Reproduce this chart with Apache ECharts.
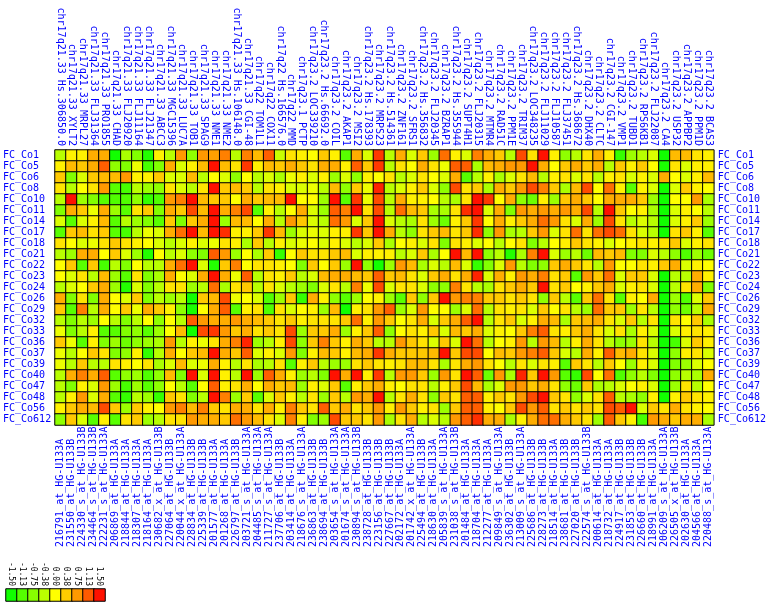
<!DOCTYPE html>
<html>
<head>
<meta charset="utf-8">
<script src="https://cdn.jsdelivr.net/npm/echarts@6/dist/echarts.min.js"></script>
<style>html,body{margin:0;padding:0;background:#fff;}#c{width:769px;height:604px;}</style>
</head>
<body>
<div id="c"></div>
<script>
const chromBands = ['chr17q21.33','chr17q21.33','chr17q21.33','chr17q21.33','chr17q21.33','chr17q21.33','chr17q21.33','chr17q21.33','chr17q21.33','chr17q21.33','chr17q21.33','chr17q21.33','chr17q21.33','chr17q21.33','chr17q21.33','chr17q21.33','chr17q21.33','chr17q21.33','chr17q22','chr17q22','chr17q22','chr17q22','chr17q23.1','chr17q23.2','chr17q23.2','chr17q23.2','chr17q23.2','chr17q23.2','chr17q23.2','chr17q23.2','chr17q23.2','chr17q23.2','chr17q23.2','chr17q23.2','chr17q23.2','chr17q23.2','chr17q23.2','chr17q23.2','chr17q23.2','chr17q23.2','chr17q23.2','chr17q23.2','chr17q23.2','chr17q23.2','chr17q23.2','chr17q23.2','chr17q23.2','chr17q23.2','chr17q23.2','chr17q23.2','chr17q23.2','chr17q23.2','chr17q23.2','chr17q23.2','chr17q23.2','chr17q23.2','chr17q23.2','chr17q23.2','chr17q23.2','chr17q23.2'];
const geneNames = ['Hs.306850.0','XYLT2','MRPL27','FLJ31364','PRO1855','CHAD','FLJ20920','FLJ11164','FLJ21347','ABCC3','MGC15396','LUC7A','TOB1','SPAG9','NME1','NME2','Hs.106148.0','CGI-48','TOM1L1','COX11','Hs.166576.0','MMD','PCTP','LOC339210','Hs.66692.0','COIL','AKAP1','MSI2','Hs.178393','MRPS23','Hs.514361','ZNF161','SFRS1','Hs.356832','FLJ20345','BZRAP1','Hs.355944','SUPT4H1','FLJ20315','MTMR4','RAD51C','PPM1E','TRIM37','LOC348235','FLJ11029','FLJ10587','FLJ37451','Hs.368672','DHX40','CLTC','CGI-147','VMP1','TUBD1','RPS6KB1','FLJ22087','CA4','USP32','APPBP2','PPM1D','BCAS3'];
const probeIds = ['216791_at_HG-U133A','231550_at_HG-U133B','224330_s_at_HG-U133B','234464_s_at_HG-U133B','222231_s_at_HG-U133A','206869_at_HG-U133A','218844_at_HG-U133A','218307_at_HG-U133A','218164_at_HG-U133A','230682_x_at_HG-U133B','227064_at_HG-U133B','220044_x_at_HG-U133A','228834_at_HG-U133B','225339_at_HG-U133B','201577_at_HG-U133A','201268_at_HG-U133A','226797_at_HG-U133B','203721_s_at_HG-U133A','204485_s_at_HG-U133A','211727_s_at_HG-U133A','237706_at_HG-U133B','203414_at_HG-U133A','218676_s_at_HG-U133A','236863_at_HG-U133B','238694_at_HG-U133B','203654_s_at_HG-U133A','201674_s_at_HG-U133A','230894_s_at_HG-U133B','238728_at_HG-U133B','223156_at_HG-U133B','227667_at_HG-U133B','202172_at_HG-U133A','201742_x_at_HG-U133A','225494_at_HG-U133B','218630_at_HG-U133A','205839_s_at_HG-U133A','231038_s_at_HG-U133B','201484_at_HG-U133A','218704_at_HG-U133A','212277_at_HG-U133A','209849_s_at_HG-U133A','236302_at_HG-U133B','213009_s_at_HG-U133A','225686_at_HG-U133B','228273_at_HG-U133B','218514_at_HG-U133A','238681_at_HG-U133B','227020_at_HG-U133B','222574_s_at_HG-U133B','200614_at_HG-U133A','218732_at_HG-U133A','224917_at_HG-U133B','231853_at_HG-U133B','226660_at_HG-U133B','218991_at_HG-U133A','206209_s_at_HG-U133A','226505_x_at_HG-U133B','202630_at_HG-U133A','204566_at_HG-U133A','220488_s_at_HG-U133A'];
const samples = ['FC_Co1','FC_Co5','FC_Co6','FC_Co8','FC_Co10','FC_Co11','FC_Co14','FC_Co17','FC_Co18','FC_Co21','FC_Co22','FC_Co23','FC_Co24','FC_Co26','FC_Co29','FC_Co32','FC_Co33','FC_Co36','FC_Co37','FC_Co39','FC_Co40','FC_Co47','FC_Co48','FC_Co56','FC_Co612'];
const legendTicks = ['-1.50','-1.13','-0.75','-0.38','0.00','0.38','0.75','1.13','1.50'];
const legendValues = [-1.5,-1.125,-0.75,-0.375,0,0.375,0.75,1.125,1.5];

const rowCo1 = [-0.4,0.1,0.1,0.6,0.6,-1.5,-0.5,-0.8,-1.4,0.1,-0.4,0.75,-0.7,0.75,0.7,0.9,-0.4,0.9,0.5,1.1,-0.3,0.2,0.1,0,0.4,0.1,-1.1,0.6,-0.2,1.3,-0.4,0.6,-0.2,0.4,-0.6,1.0,0.1,-0.2,0.9,0.6,0.4,-0.4,1.2,0.2,1.5,0.1,-0.7,-0.4,0.2,0.6,0.1,-1.3,-0.6,-0.4,-0.2,-1.5,0.5,0.5,0.2,0.1];
const rowCo5 = [0.1,0.5,0.4,0.6,1.1,-0.7,-0.8,-0.1,-1.2,-0.8,0.6,-0.2,0.1,0.5,1.5,0.5,0.2,1.3,0.1,0.5,0.4,0.6,0.4,0.2,0.6,0.6,0.1,1.1,0.4,1.3,-0.4,0.2,0,0.6,0.2,-0.1,1.1,1.1,-0.5,0.5,0.6,0.75,0.75,1.5,0.6,0,0.4,0.6,0.4,0.6,-0.4,0.4,0.1,0.4,0,-1.45,0.2,-0.2,0.1,0.1];
const rowCo6 = [0.4,-0.8,-0.2,0.4,0.5,0.5,0.75,0.1,0.1,0.4,-0.2,-0.2,0.5,-0.4,0,-0.2,-0.7,0,-0.4,-0.2,-0.5,-0.1,0.1,-0.2,0.1,-0.6,-0.2,-0.7,0.1,0,0.2,-0.4,-0.2,0.2,0,-0.2,0.6,-1.1,-0.4,0.1,-0.5,-0.2,0.2,0.5,-0.4,0.1,0.2,-0.2,0.2,-0.4,0.1,0.2,-0.2,0.1,-0.2,0.6,0,-0.2,0.1,0.5];
const rowCo8 = [0.2,-0.4,0,0.2,0.75,-1.1,-1.2,-0.4,-0.6,-0.7,0.2,-0.2,-0.4,0.2,1.5,0.4,0.5,0.4,-0.4,0.2,0.1,-0.2,-0.2,-0.1,-0.4,0.5,-0.7,0.4,-0.1,1.4,-0.4,-0.2,0.1,0.4,-0.2,-0.7,1.2,0.2,0.4,-0.5,0.6,0.4,0.75,1.2,0.9,0.4,-0.5,0.5,1.2,0,1.0,0.1,-1.1,0.1,-0.2,-1.5,-0.2,0.4,0.1,0];
const rowCo10 = [-0.4,1.5,-0.6,-0.8,-1.1,-1.15,-1.15,-0.7,-1.3,-1.15,0.75,0.9,1.5,0.5,0.4,0.4,0,0.6,0.4,0.5,0.5,1.5,0,0,-0.6,1.5,-1.1,1.3,-0.1,1.2,-0.4,0.6,0.1,0.1,0,-0.4,-0.5,0.2,1.5,1.3,0,0.6,-0.7,-0.95,0.1,-0.6,0.4,0.6,0.4,0,0.6,0.6,0.6,0.4,-0.6,-1.5,0,0,0.75,-0.5];
const rowCo11 = [-0.8,0.6,0.4,-0.1,0.6,-0.6,-1.1,0.2,0.4,-0.8,0.6,0.4,1.2,0.5,1.5,0.6,0.9,1.2,-1.1,0.1,-0.4,0,0.6,-0.2,-0.6,1.1,0.9,1.5,0.2,1.2,-0.4,1.0,0.5,0.4,-0.5,-0.5,0.2,1.35,1.5,-0.2,0.6,-0.8,0.75,0.6,0.75,0.6,0.75,0.6,1.2,-0.4,1.5,0.4,0,0.1,-0.5,-1.5,-0.2,0.1,0,-0.4];
const rowCo14 = [-0.2,-1.1,-0.2,0.1,0.5,-1.1,-0.4,-0.6,-0.8,-1.1,0.4,-0.8,0.4,0.6,1.5,-0.6,0.5,0.5,0,0.6,-0.4,0.75,0.4,-0.2,-0.4,1.0,0.75,-0.2,0.4,1.5,-0.2,-0.4,-0.5,0.2,-0.6,-0.95,0.1,0.4,1.3,0,0.6,0.1,0.4,0.6,1.0,0.75,0.2,-0.2,0.6,-0.6,1.2,0.2,-0.4,-0.2,-0.4,-1.5,-0.2,0.1,0.4,-0.6];
const rowCo17 = [-1.1,0.4,0.5,0.2,0.4,-1.1,-1.2,-0.4,-0.1,-0.2,0.6,1.0,1.5,0.5,1.5,1.35,0.1,0.1,0.4,1.3,0.5,-0.6,-0.2,-0.1,-0.2,0.1,0.1,1.3,0.4,1.5,0.6,-0.4,-0.7,0.2,0.4,0.5,0.2,0.4,1.35,-0.7,0.75,-0.5,-0.4,0.4,0.75,-0.2,0.2,1.0,0.2,1.0,1.2,1.0,0.2,-0.2,-0.4,-1.5,0.2,0.4,0.1,-1.1];
const rowCo18 = [0.2,0,-0.2,-0.1,0.2,0.4,0.2,0.1,0,-0.2,-0.4,-0.2,0.1,-0.2,-0.1,0.2,0.1,-0.5,0.4,-0.4,0.1,-0.2,-0.1,0,-0.2,0.1,-0.2,-0.4,-0.2,0.4,-0.5,0,0.1,-0.2,0.2,-0.8,0.2,0.1,-0.2,0,-0.4,0,0.2,-0.8,-0.4,0,0.1,0.4,0.2,0.1,-0.2,0,0.1,0.2,0.1,0.2,0.4,-0.2,0.1,0.2];
const rowCo21 = [-0.4,-0.6,0.6,0.6,0,0.4,-0.2,-0.6,-1.4,0,-0.4,-0.2,-0.7,-0.8,1.1,0.75,-0.6,0,-0.5,0.4,-1.3,0,0.4,0.2,0.2,0.4,0.5,-0.2,0.1,0.1,0.1,-0.4,-0.2,0.4,-0.5,0,1.5,0.5,1.5,-0.7,-0.4,-1.4,-0.5,0.9,1.5,-0.2,-0.6,-0.4,-0.95,0.5,0.4,0.5,-0.8,-0.8,-0.2,-0.4,-0.7,-1.15,-0.6,-0.95];
const rowCo22 = [0,0.4,-1.1,0.4,-1.2,-0.4,-0.8,0,-0.4,-0.4,0.6,1.0,1.5,-0.2,-1.4,0.4,0.9,0,0.2,0.2,0.1,0,-0.8,0.4,0,0.4,-0.6,1.5,-0.7,-1.5,-0.6,0.75,0.5,-0.5,-0.2,-0.4,0.5,-0.2,-1.3,-0.8,-0.2,0.75,-0.4,-0.8,-0.7,0.4,0.6,0.4,0.2,-0.4,0.75,0,0,0.2,0.1,0.4,0.6,-0.2,0.1,0];
const rowCo23 = [0,-0.2,0.2,-0.4,0.5,-0.6,-1.1,0.2,-0.8,-0.5,0.6,0,-0.2,0.6,1.5,0.6,-0.1,1.1,-0.4,0.2,0.1,0.4,-0.4,-0.2,0.5,0.6,0.6,0.5,0.4,1.1,0.4,0.5,0.2,-0.2,0.4,0.6,0.2,0.6,1.4,-0.2,0.6,0.1,0.75,0.6,0.9,0.2,0.4,-1.1,0.75,0.4,1.0,-0.2,0.4,0.4,-0.2,-1.5,-0.4,-0.4,0.6,0.1];
const rowCo24 = [-0.4,-0.2,0,0.4,0.6,-0.6,-1.4,-0.2,-0.8,-0.4,0.2,0.2,-0.6,-0.4,1.0,-0.5,0.2,0.4,-0.4,0.2,-0.2,-0.4,-0.6,-0.8,-0.2,0.2,-0.4,0.9,-0.1,1.2,-0.2,0.2,0.2,-0.2,-0.7,-0.7,0.9,0.2,-0.4,-0.5,0.2,0.4,0.6,0.4,1.5,0.2,0.4,0,0.1,0.4,0.6,-0.2,0.1,0.2,-0.2,-1.5,-0.4,0.2,0.6,-0.8];
const rowCo26 = [0.6,-0.8,0.2,-0.8,0.6,0,-0.2,0.4,-0.8,-0.4,-0.6,-0.4,-1.5,0.4,0.5,1.2,-0.1,0,-0.2,-1.15,-0.6,0.4,-1.3,0.6,0.1,-0.7,-1.1,-0.6,0,0.1,-0.6,-1.1,0.4,-0.7,0.4,1.5,0.75,0.9,0.9,0.4,0.4,0.2,0.4,0.2,-0.7,0.4,-0.4,-1.1,0.4,1.0,0.2,-1.1,0.1,0,0.6,-1.5,-0.6,-1.15,-0.2,0.4];
const rowCo29 = [0.4,-1.1,0.9,-0.4,0.6,0,0.4,-0.1,0.6,0.4,0.1,-0.7,-1.45,0,0.6,1.1,-1.1,0.1,0.2,-1.15,0.2,-0.2,0,0.1,-0.6,0.5,-1.5,0.1,0.2,0.75,1.1,-0.6,-0.2,0.75,0,0,-0.6,-0.2,1.0,-0.4,0.2,0.1,0.2,-0.2,0.4,0,0.2,-0.4,-0.6,1.0,0.4,0.4,-0.6,0.2,-0.4,-1.5,-0.7,-0.95,-0.4,0.6];
const rowCo32 = [-0.4,-0.8,-0.4,-0.6,0,-0.4,-0.8,-0.4,0,-0.7,0,-0.4,1.1,0.75,0.6,0.6,0.75,0.6,0.5,0.4,0.2,0.4,0.1,0.2,0.2,0.2,0.4,1.0,0.1,0.75,0.4,0,0.2,0.6,-0.2,0.4,0.6,1.1,1.5,-0.4,0.2,0.4,-0.2,0.1,0.6,0.5,-0.5,0.4,0.5,0.6,0.2,-0.2,0.4,-0.4,0.2,-1.5,0.2,0,0.4,-0.5];
const rowCo33 = [-0.1,-0.8,-0.4,0.1,-1.1,-1.1,-0.8,-0.7,-1.1,-0.6,0,0.5,-1.5,1.2,1.3,0.75,0.4,0.6,0.2,0.4,0.2,1.2,-0.6,0.4,0.4,0.6,-0.6,0.1,0.4,1.1,-0.7,0,0.2,0.1,0.4,-0.2,0.5,0.4,0.6,-0.2,0.1,0,0.4,0.9,1.1,0.2,0.1,0.4,0.6,0.2,-0.2,0.2,-0.5,0.1,-0.2,-1.5,-0.2,0.1,0.2,0.1];
const rowCo36 = [0.4,-0.1,-1.1,0.1,-0.8,-0.6,-0.95,-0.7,-0.6,-0.5,0.75,-0.4,0.1,-0.1,0.2,0.6,0.9,1.4,-0.6,-0.4,0.1,1.2,-0.7,0.4,0.9,0.4,0.1,0.6,0.4,-0.4,-0.4,0.75,0.4,0.2,-0.2,0.4,-0.2,1.5,1.0,-0.4,0,0.1,0.75,-0.4,0.75,0.5,-0.4,0.1,0.6,0.2,-0.4,-0.7,-0.6,0.2,-0.4,-1.5,-1.2,-0.2,0.4,0.1];
const rowCo37 = [-0.1,-0.4,0,0.4,0.2,-0.8,-0.7,0.1,-1.3,-0.4,0.6,0,0.4,0.5,1.5,0.6,0.4,1.1,-0.2,0.1,-0.2,0.75,-0.8,0.1,0.5,0.4,0.1,0.5,0.6,1.3,0.6,0.4,0.4,0.4,0.5,1.5,0.4,1.2,1.2,0,0.5,0.4,0.75,0.9,1.1,0.4,-0.2,-0.4,0.6,0.1,1.1,0.5,0.6,0.2,-0.2,-1.5,-0.7,0.1,0.2,-0.2];
const rowCo39 = [-0.1,-0.4,0.4,-0.4,-0.4,0.2,0.1,0,0.2,-0.5,-0.2,0.5,-0.2,-0.1,0.6,0.1,-0.4,0.2,-0.5,-0.4,0.2,-1.1,0.1,0.4,-0.4,-0.6,-0.6,0.2,0.4,0.2,0.1,0.2,0.5,0.5,0.2,-0.5,0.2,0.6,0.75,0.2,0,-0.4,0.2,-0.2,0.2,0.1,-1.1,0.4,0.2,-0.4,0.4,0,-0.6,0.1,-0.2,-1.5,-0.8,-0.6,-0.2,0];
const rowCo40 = [-0.4,0.6,0.9,0.6,1.1,-1.1,-0.7,-0.6,-1.15,-0.7,0.5,-0.8,1.5,-0.2,1.5,0.1,-0.4,1.5,-0.6,1.1,0.6,0.1,-0.6,-0.4,-0.8,1.5,0.6,1.5,0.1,1.3,-0.4,0.75,0.75,0.4,-0.6,0.75,0.2,1.5,1.1,-0.95,0.75,-0.5,1.4,0.4,1.5,0.75,-1.1,-1.3,1.2,0,1.0,-1.15,-0.7,-0.4,-0.8,-1.5,-0.7,-0.4,-0.5,0.6];
const rowCo47 = [-0.4,-0.8,0.1,-0.2,0.75,-0.6,-1.2,-0.6,-1.1,-0.7,0,-0.4,-1.1,0,1.1,0.1,0.2,0.6,0,0.6,0.4,0.5,-0.6,0.1,-0.2,0.4,-1.1,0.1,0.4,0.6,0.1,0,0.2,0.2,-0.4,0.1,0.4,1.2,0.5,-0.5,-0.2,0.75,0.75,0.4,0.6,0.2,-0.7,-0.95,0.4,-0.5,-0.4,-0.2,0,0.1,-0.2,-1.5,-0.6,0.2,-0.4,0];
const rowCo48 = [-0.4,0.1,0.75,-0.2,0.6,-1.1,-1.3,-0.4,-0.6,-1.3,0.4,0.2,-0.8,-0.4,1.5,0.9,-0.6,0.4,-1.1,-0.2,0.4,0.1,-0.4,0.2,-0.6,0.4,-0.4,0.75,0.6,1.5,-0.4,0.2,0.6,0.2,-0.7,0.4,0.2,1.1,1.1,0.1,0.4,0.2,0.75,1.2,1.5,0.4,0.2,-0.7,-0.2,0.2,1.1,-0.4,-0.5,-0.7,0.1,-1.5,0.1,0.4,0.2,0.1];
const rowCo56 = [0.1,0.4,0.6,0.5,1.2,0.4,-0.6,0.4,0.1,0,0.75,0.9,0.5,0.9,0.4,0.2,0.6,0.6,0.2,0.6,0.1,0.9,0.4,0.2,1.1,0.4,0.6,0.2,0.4,0.75,0.1,0.75,0.4,0.1,0.2,-0.6,0.4,1.1,1.1,0.1,0,0.4,1.2,0.75,1.1,0.2,0.4,0.2,0.4,0.2,1.2,1.1,1.5,-0.2,0.4,0.2,0.6,0.2,0.1,0];
const rowCo612 = [-0.7,0.4,-0.2,-1.1,0.1,-1.1,0.2,0.4,-0.6,-0.4,0.2,0.2,0.75,0.6,0.6,0.4,1.0,0.75,0.5,0.2,-0.2,0.9,0.1,-0.8,-0.6,1.2,0.4,0.4,0.2,0.75,-0.5,0.2,0.6,-0.4,-0.2,-0.4,0.75,1.1,1.35,0.6,0.6,-0.5,0.1,0.6,1.0,1.0,0.6,0.4,0.2,-0.6,1.1,0.4,0.1,-1.2,0.75,0.6,0.4,0.6,0.6,-0.5];

const rows = [rowCo1,rowCo5,rowCo6,rowCo8,rowCo10,rowCo11,rowCo14,rowCo17,rowCo18,rowCo21,rowCo22,rowCo23,rowCo24,rowCo26,rowCo29,rowCo32,rowCo33,rowCo36,rowCo37,rowCo39,rowCo40,rowCo47,rowCo48,rowCo56,rowCo612];

const topLabels = chromBands.map((c, i) => c + ' ' + geneNames[i]);
const cells = [];
rows.forEach((r, y) => r.forEach((v, x) => cells.push([x, y, v])));
const legendCells = legendValues.map((v, i) => [i, 0, v]);

const FONT = 'DejaVu Sans Mono';
const chart = echarts.init(document.getElementById('c'), null, {renderer: 'canvas'});
chart.setOption({
  backgroundColor: '#ffffff',
  animation: false,
  grid: [
    {left: 54, top: 150, width: 660, height: 275},
    {left: 6, top: 589, width: 99, height: 12}
  ],
  xAxis: [
    {type: 'category', gridIndex: 0, position: 'top', data: topLabels,
     axisLine: {show: false}, axisTick: {show: false}, splitLine: {show: false},
     axisLabel: {interval: 0, rotate: 90, margin: 4, color: '#0000ff', fontFamily: FONT, fontSize: 10}},
    {type: 'category', gridIndex: 0, position: 'bottom', data: probeIds,
     axisLine: {show: false}, axisTick: {show: false}, splitLine: {show: false},
     axisLabel: {interval: 0, rotate: 90, margin: 122, align: 'left', color: '#0000ff', fontFamily: FONT, fontSize: 10}},
    {type: 'category', gridIndex: 1, position: 'top', data: legendTicks,
     axisLine: {show: false}, axisTick: {show: false}, splitLine: {show: false},
     axisLabel: {interval: 0, rotate: 90, margin: 3, color: '#000000', fontFamily: FONT, fontSize: 8}}
  ],
  yAxis: [
    {type: 'category', gridIndex: 0, position: 'left', inverse: true, data: samples,
     axisLine: {show: false}, axisTick: {show: false}, splitLine: {show: false},
     axisLabel: {interval: 0, margin: 52, align: 'left', color: '#0000ff', fontFamily: FONT, fontSize: 10}},
    {type: 'category', gridIndex: 0, position: 'right', inverse: true, data: samples,
     axisLine: {show: false}, axisTick: {show: false}, splitLine: {show: false},
     axisLabel: {interval: 0, margin: 4, align: 'left', color: '#0000ff', fontFamily: FONT, fontSize: 10}},
    {type: 'category', gridIndex: 1, data: ['legend'], show: false}
  ],
  visualMap: {
    show: false, type: 'continuous', min: -1.5, max: 1.5, dimension: 2, seriesIndex: [0, 1],
    inRange: {color: ['#11ff00','#55ff00','#88ff00','#bbff00','#ffff00','#ffcc00','#ff9900','#ff5a00','#ff1100']}
  },
  series: [
    {type: 'heatmap', xAxisIndex: 0, yAxisIndex: 0, data: cells,
     itemStyle: {borderColor: '#000000', borderWidth: 1}, emphasis: {disabled: true}},
    {type: 'heatmap', xAxisIndex: 2, yAxisIndex: 2, data: legendCells,
     itemStyle: {borderColor: '#000000', borderWidth: 1}, emphasis: {disabled: true}}
  ]
});
</script>
</body>
</html>
